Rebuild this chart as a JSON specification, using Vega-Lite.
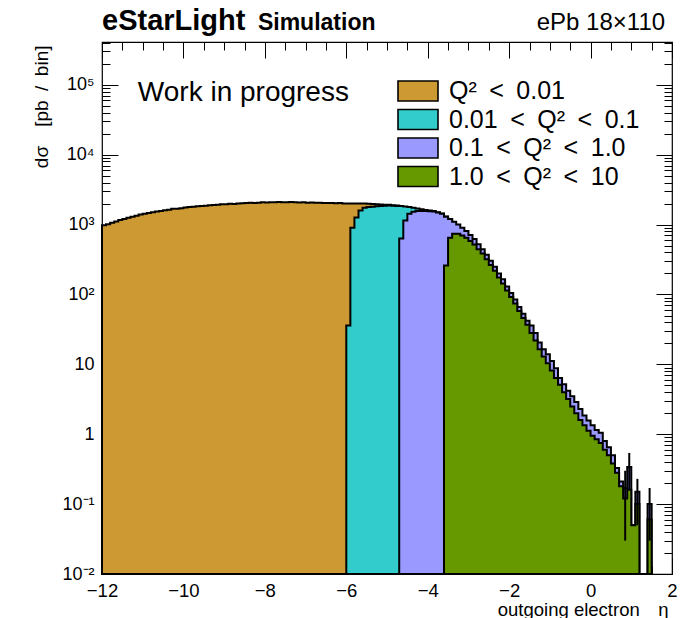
{
  "$schema": "https://vega.github.io/schema/vega-lite/v6.json",
  "width": 570,
  "height": 532,
  "autosize": {"type": "none"},
  "padding": {"left": 102, "top": 42, "right": 18, "bottom": 44},
  "background": "white",
  "config": {
    "font": "Liberation Sans",
    "view": {"stroke": "black", "strokeWidth": 1.2},
    "axis": {"grid": false, "domain": false, "tickColor": "black", "tickWidth": 1, "labelColor": "black", "titleColor": "black", "labelFont": "Liberation Sans", "titleFont": "Liberation Sans"}
  },
  "data": {
    "values": [
      {"eta": -12.0, "q2max": 0.01, "dsigma": 975}, {"eta": -11.9, "q2max": 0.01, "dsigma": 1010}, {"eta": -11.8, "q2max": 0.01, "dsigma": 1060}, {"eta": -11.7, "q2max": 0.01, "dsigma": 1110},
      {"eta": -11.6, "q2max": 0.01, "dsigma": 1160}, {"eta": -11.5, "q2max": 0.01, "dsigma": 1200}, {"eta": -11.4, "q2max": 0.01, "dsigma": 1250}, {"eta": -11.3, "q2max": 0.01, "dsigma": 1300},
      {"eta": -11.2, "q2max": 0.01, "dsigma": 1340}, {"eta": -11.1, "q2max": 0.01, "dsigma": 1390}, {"eta": -11.0, "q2max": 0.01, "dsigma": 1430}, {"eta": -10.9, "q2max": 0.01, "dsigma": 1470},
      {"eta": -10.8, "q2max": 0.01, "dsigma": 1500}, {"eta": -10.7, "q2max": 0.01, "dsigma": 1540}, {"eta": -10.6, "q2max": 0.01, "dsigma": 1570}, {"eta": -10.5, "q2max": 0.01, "dsigma": 1600},
      {"eta": -10.4, "q2max": 0.01, "dsigma": 1630}, {"eta": -10.3, "q2max": 0.01, "dsigma": 1680}, {"eta": -10.2, "q2max": 0.01, "dsigma": 1690}, {"eta": -10.1, "q2max": 0.01, "dsigma": 1720},
      {"eta": -10.0, "q2max": 0.01, "dsigma": 1760}, {"eta": -9.9, "q2max": 0.01, "dsigma": 1780}, {"eta": -9.8, "q2max": 0.01, "dsigma": 1800}, {"eta": -9.7, "q2max": 0.01, "dsigma": 1830},
      {"eta": -9.6, "q2max": 0.01, "dsigma": 1850}, {"eta": -9.5, "q2max": 0.01, "dsigma": 1860}, {"eta": -9.4, "q2max": 0.01, "dsigma": 1890}, {"eta": -9.3, "q2max": 0.01, "dsigma": 1910},
      {"eta": -9.2, "q2max": 0.01, "dsigma": 1920}, {"eta": -9.1, "q2max": 0.01, "dsigma": 1950}, {"eta": -9.0, "q2max": 0.01, "dsigma": 1960}, {"eta": -8.9, "q2max": 0.01, "dsigma": 1980},
      {"eta": -8.8, "q2max": 0.01, "dsigma": 1970}, {"eta": -8.7, "q2max": 0.01, "dsigma": 2010}, {"eta": -8.6, "q2max": 0.01, "dsigma": 2020}, {"eta": -8.5, "q2max": 0.01, "dsigma": 2030},
      {"eta": -8.4, "q2max": 0.01, "dsigma": 2050}, {"eta": -8.3, "q2max": 0.01, "dsigma": 2040}, {"eta": -8.2, "q2max": 0.01, "dsigma": 2060}, {"eta": -8.1, "q2max": 0.01, "dsigma": 2080},
      {"eta": -8.0, "q2max": 0.01, "dsigma": 2070}, {"eta": -7.9, "q2max": 0.01, "dsigma": 2090}, {"eta": -7.8, "q2max": 0.01, "dsigma": 2080}, {"eta": -7.7, "q2max": 0.01, "dsigma": 2100},
      {"eta": -7.6, "q2max": 0.01, "dsigma": 2090}, {"eta": -7.5, "q2max": 0.01, "dsigma": 2080}, {"eta": -7.4, "q2max": 0.01, "dsigma": 2100}, {"eta": -7.3, "q2max": 0.01, "dsigma": 2090},
      {"eta": -7.2, "q2max": 0.01, "dsigma": 2070}, {"eta": -7.1, "q2max": 0.01, "dsigma": 2080}, {"eta": -7.0, "q2max": 0.01, "dsigma": 2060}, {"eta": -6.9, "q2max": 0.01, "dsigma": 2070},
      {"eta": -6.8, "q2max": 0.01, "dsigma": 2050}, {"eta": -6.7, "q2max": 0.01, "dsigma": 2060}, {"eta": -6.6, "q2max": 0.01, "dsigma": 2040}, {"eta": -6.5, "q2max": 0.01, "dsigma": 2030},
      {"eta": -6.4, "q2max": 0.01, "dsigma": 2040}, {"eta": -6.3, "q2max": 0.01, "dsigma": 2020}, {"eta": -6.2, "q2max": 0.01, "dsigma": 2030}, {"eta": -6.1, "q2max": 0.01, "dsigma": 2010},
      {"eta": -6.0, "q2max": 0.01, "dsigma": 1975}, {"eta": -5.9, "q2max": 0.01, "dsigma": 1110}, {"eta": -5.8, "q2max": 0.01, "dsigma": 740}, {"eta": -5.7, "q2max": 0.01, "dsigma": 410},
      {"eta": -5.6, "q2max": 0.01, "dsigma": 260}, {"eta": -5.5, "q2max": 0.01, "dsigma": 210}, {"eta": -5.4, "q2max": 0.01, "dsigma": 170}, {"eta": -5.3, "q2max": 0.01, "dsigma": 130},
      {"eta": -5.2, "q2max": 0.01, "dsigma": 95}, {"eta": -5.1, "q2max": 0.01, "dsigma": 65}, {"eta": -5.0, "q2max": 0.01, "dsigma": 45}, {"eta": -4.9, "q2max": 0.01, "dsigma": 30},
      {"eta": -4.8, "q2max": 0.01, "dsigma": 18}, {"eta": -4.7, "q2max": 0.01, "dsigma": 0},

      {"eta": -6.0, "q2max": 0.1, "dsigma": 36}, {"eta": -5.9, "q2max": 0.1, "dsigma": 900}, {"eta": -5.8, "q2max": 0.1, "dsigma": 1260}, {"eta": -5.7, "q2max": 0.1, "dsigma": 1590},
      {"eta": -5.6, "q2max": 0.1, "dsigma": 1740}, {"eta": -5.5, "q2max": 0.1, "dsigma": 1780}, {"eta": -5.4, "q2max": 0.1, "dsigma": 1800}, {"eta": -5.3, "q2max": 0.1, "dsigma": 1830},
      {"eta": -5.2, "q2max": 0.1, "dsigma": 1850}, {"eta": -5.1, "q2max": 0.1, "dsigma": 1860}, {"eta": -5.0, "q2max": 0.1, "dsigma": 1870}, {"eta": -4.9, "q2max": 0.1, "dsigma": 1860},
      {"eta": -4.8, "q2max": 0.1, "dsigma": 1850}, {"eta": -4.7, "q2max": 0.1, "dsigma": 1210}, {"eta": -4.6, "q2max": 0.1, "dsigma": 670}, {"eta": -4.5, "q2max": 0.1, "dsigma": 345},
      {"eta": -4.4, "q2max": 0.1, "dsigma": 210}, {"eta": -4.3, "q2max": 0.1, "dsigma": 140}, {"eta": -4.2, "q2max": 0.1, "dsigma": 90}, {"eta": -4.1, "q2max": 0.1, "dsigma": 55},
      {"eta": -4.0, "q2max": 0.1, "dsigma": 35}, {"eta": -3.9, "q2max": 0.1, "dsigma": 20}, {"eta": -3.8, "q2max": 0.1, "dsigma": 12}, {"eta": -3.7, "q2max": 0.1, "dsigma": 8},
      {"eta": -3.6, "q2max": 0.1, "dsigma": 5}, {"eta": -3.5, "q2max": 0.1, "dsigma": 3}, {"eta": -3.4, "q2max": 0.1, "dsigma": 0},

      {"eta": -4.7, "q2max": 1, "dsigma": 630}, {"eta": -4.6, "q2max": 1, "dsigma": 1140}, {"eta": -4.5, "q2max": 1, "dsigma": 1435}, {"eta": -4.4, "q2max": 1, "dsigma": 1530},
      {"eta": -4.3, "q2max": 1, "dsigma": 1560}, {"eta": -4.2, "q2max": 1, "dsigma": 1570}, {"eta": -4.1, "q2max": 1, "dsigma": 1565}, {"eta": -4.0, "q2max": 1, "dsigma": 1555},
      {"eta": -3.9, "q2max": 1, "dsigma": 1540}, {"eta": -3.8, "q2max": 1, "dsigma": 1490}, {"eta": -3.7, "q2max": 1, "dsigma": 1430}, {"eta": -3.6, "q2max": 1, "dsigma": 1040},
      {"eta": -3.5, "q2max": 1, "dsigma": 550}, {"eta": -3.4, "q2max": 1, "dsigma": 360}, {"eta": -3.3, "q2max": 1, "dsigma": 260}, {"eta": -3.2, "q2max": 1, "dsigma": 200},
      {"eta": -3.1, "q2max": 1, "dsigma": 160}, {"eta": -3.0, "q2max": 1, "dsigma": 130}, {"eta": -2.9, "q2max": 1, "dsigma": 100}, {"eta": -2.8, "q2max": 1, "dsigma": 80},
      {"eta": -2.7, "q2max": 1, "dsigma": 60}, {"eta": -2.6, "q2max": 1, "dsigma": 50}, {"eta": -2.5, "q2max": 1, "dsigma": 40}, {"eta": -2.4, "q2max": 1, "dsigma": 32},
      {"eta": -2.3, "q2max": 1, "dsigma": 25}, {"eta": -2.2, "q2max": 1, "dsigma": 21}, {"eta": -2.1, "q2max": 1, "dsigma": 16}, {"eta": -2.0, "q2max": 1, "dsigma": 13},
      {"eta": -1.9, "q2max": 1, "dsigma": 11}, {"eta": -1.8, "q2max": 1, "dsigma": 8}, {"eta": -1.7, "q2max": 1, "dsigma": 7}, {"eta": -1.6, "q2max": 1, "dsigma": 5},
      {"eta": -1.5, "q2max": 1, "dsigma": 8}, {"eta": -1.4, "q2max": 1, "dsigma": 6}, {"eta": -1.3, "q2max": 1, "dsigma": 4}, {"eta": -1.2, "q2max": 1, "dsigma": 3.5},
      {"eta": -1.1, "q2max": 1, "dsigma": 3.5}, {"eta": -1.0, "q2max": 1, "dsigma": 3.0}, {"eta": -0.9, "q2max": 1, "dsigma": 2.4}, {"eta": -0.8, "q2max": 1, "dsigma": 1.3},
      {"eta": -0.7, "q2max": 1, "dsigma": 1.2}, {"eta": -0.6, "q2max": 1, "dsigma": 1.0}, {"eta": -0.5, "q2max": 1, "dsigma": 1.0}, {"eta": -0.4, "q2max": 1, "dsigma": 0.9},
      {"eta": -0.3, "q2max": 1, "dsigma": 0.7}, {"eta": -0.2, "q2max": 1, "dsigma": 0.5}, {"eta": -0.1, "q2max": 1, "dsigma": 0.45}, {"eta": 0.0, "q2max": 1, "dsigma": 0.4},
      {"eta": 0.1, "q2max": 1, "dsigma": 0.3}, {"eta": 0.2, "q2max": 1, "dsigma": 0.3}, {"eta": 0.3, "q2max": 1, "dsigma": 0.2}, {"eta": 0.4, "q2max": 1, "dsigma": 0.15},
      {"eta": 0.5, "q2max": 1, "dsigma": 0.12}, {"eta": 0.6, "q2max": 1, "dsigma": 0.05}, {"eta": 0.7, "q2max": 1, "dsigma": 0.03}, {"eta": 0.8, "q2max": 1, "dsigma": 0.05},
      {"eta": 0.9, "q2max": 1, "dsigma": 0.18}, {"eta": 1.0, "q2max": 1, "dsigma": 0}, {"eta": 1.1, "q2max": 1, "dsigma": 0.05}, {"eta": 1.2, "q2max": 1, "dsigma": 0},
      {"eta": 1.3, "q2max": 1, "dsigma": 0}, {"eta": 1.4, "q2max": 1, "dsigma": 0.04}, {"eta": 1.5, "q2max": 1, "dsigma": 0},

      {"eta": -3.6, "q2max": 10, "dsigma": 260}, {"eta": -3.5, "q2max": 10, "dsigma": 650}, {"eta": -3.4, "q2max": 10, "dsigma": 740}, {"eta": -3.3, "q2max": 10, "dsigma": 740},
      {"eta": -3.2, "q2max": 10, "dsigma": 700}, {"eta": -3.1, "q2max": 10, "dsigma": 650}, {"eta": -3.0, "q2max": 10, "dsigma": 580}, {"eta": -2.9, "q2max": 10, "dsigma": 520},
      {"eta": -2.8, "q2max": 10, "dsigma": 445}, {"eta": -2.7, "q2max": 10, "dsigma": 385}, {"eta": -2.6, "q2max": 10, "dsigma": 320}, {"eta": -2.5, "q2max": 10, "dsigma": 265},
      {"eta": -2.4, "q2max": 10, "dsigma": 218}, {"eta": -2.3, "q2max": 10, "dsigma": 175}, {"eta": -2.2, "q2max": 10, "dsigma": 144}, {"eta": -2.1, "q2max": 10, "dsigma": 114},
      {"eta": -2.0, "q2max": 10, "dsigma": 92}, {"eta": -1.9, "q2max": 10, "dsigma": 74}, {"eta": -1.8, "q2max": 10, "dsigma": 58}, {"eta": -1.7, "q2max": 10, "dsigma": 46},
      {"eta": -1.6, "q2max": 10, "dsigma": 37}, {"eta": -1.5, "q2max": 10, "dsigma": 28}, {"eta": -1.4, "q2max": 10, "dsigma": 22}, {"eta": -1.3, "q2max": 10, "dsigma": 16.5},
      {"eta": -1.2, "q2max": 10, "dsigma": 13}, {"eta": -1.1, "q2max": 10, "dsigma": 10.4}, {"eta": -1.0, "q2max": 10, "dsigma": 8.2}, {"eta": -0.9, "q2max": 10, "dsigma": 6.4},
      {"eta": -0.8, "q2max": 10, "dsigma": 5.1}, {"eta": -0.7, "q2max": 10, "dsigma": 4.0}, {"eta": -0.6, "q2max": 10, "dsigma": 3.2}, {"eta": -0.5, "q2max": 10, "dsigma": 2.5},
      {"eta": -0.4, "q2max": 10, "dsigma": 2.0}, {"eta": -0.3, "q2max": 10, "dsigma": 1.6}, {"eta": -0.2, "q2max": 10, "dsigma": 1.35}, {"eta": -0.1, "q2max": 10, "dsigma": 1.12},
      {"eta": 0.0, "q2max": 10, "dsigma": 0.95}, {"eta": 0.1, "q2max": 10, "dsigma": 0.85}, {"eta": 0.2, "q2max": 10, "dsigma": 0.75}, {"eta": 0.3, "q2max": 10, "dsigma": 0.6},
      {"eta": 0.4, "q2max": 10, "dsigma": 0.5}, {"eta": 0.5, "q2max": 10, "dsigma": 0.38}, {"eta": 0.6, "q2max": 10, "dsigma": 0.28}, {"eta": 0.7, "q2max": 10, "dsigma": 0.18},
      {"eta": 0.8, "q2max": 10, "dsigma": 0.12}, {"eta": 0.9, "q2max": 10, "dsigma": 0.16}, {"eta": 1.0, "q2max": 10, "dsigma": 0.05}, {"eta": 1.1, "q2max": 10, "dsigma": 0.1},
      {"eta": 1.2, "q2max": 10, "dsigma": 0}, {"eta": 1.3, "q2max": 10, "dsigma": 0}, {"eta": 1.4, "q2max": 10, "dsigma": 0.06}, {"eta": 1.5, "q2max": 10, "dsigma": 0}
    ]
  },
  "transform": [
    {"stack": "dsigma", "groupby": ["eta"], "sort": [{"field": "q2max", "order": "descending"}], "as": ["stack_lo", "stack_hi"]}
  ],
  "resolve": {"axis": {"x": "independent", "y": "independent"}},
  "layer": [
    {
      "transform": [{"filter": "datum.q2max == 0.01"}],
      "mark": {"type": "area", "interpolate": "step-after", "stroke": "black", "strokeWidth": 2},
      "encoding": {
        "x": {
          "field": "eta", "type": "quantitative",
          "scale": {"domain": [-12, 2], "nice": false, "zero": false},
          "axis": {
            "orient": "bottom",
            "values": [-12, -11.5, -11, -10.5, -10, -9.5, -9, -8.5, -8, -7.5, -7, -6.5, -6, -5.5, -5, -4.5, -4, -3.5, -3, -2.5, -2, -1.5, -1, -0.5, 0, 0.5, 1, 1.5, 2],
            "labelExpr": "datum.value % 2 == 0 ? format(datum.value, 'd') : ''",
            "tickSize": {"condition": {"test": "datum.value % 2 == 0", "value": -16}, "value": -8},
            "labelFontSize": 18.5, "labelPadding": 23, "labelOverlap": false, "labelFlush": false, "labelBound": false,
            "title": "outgoing electron\u2002\u2002η", "titleFontSize": 18.5, "titleFontWeight": "normal",
            "titleAnchor": "end", "titleAlign": "right", "titleBaseline": "alphabetic", "titleX": 566, "titleY": 41
          }
        },
        "y": {
          "field": "stack_hi", "type": "quantitative", "stack": null,
          "scale": {"type": "log", "domain": [0.01, 410000], "nice": false, "clamp": true},
          "axis": {
            "orient": "left",
            "values": [0.01, 0.02, 0.03, 0.04, 0.05, 0.06, 0.07, 0.08, 0.09, 0.1, 0.2, 0.3, 0.4, 0.5, 0.6, 0.7, 0.8, 0.9, 1, 2, 3, 4, 5, 6, 7, 8, 9, 10, 20, 30, 40, 50, 60, 70, 80, 90, 100, 200, 300, 400, 500, 600, 700, 800, 900, 1000, 2000, 3000, 4000, 5000, 6000, 7000, 8000, 9000, 10000, 20000, 30000, 40000, 50000, 60000, 70000, 80000, 90000, 100000, 200000, 300000, 400000],
            "labelExpr": "datum.value == 0.01 ? '10⁻²' : datum.value == 0.1 ? '10⁻¹' : datum.value == 1 ? '1' : datum.value == 10 ? '10' : datum.value == 100 ? '10²' : datum.value == 1000 ? '10³' : datum.value == 10000 ? '10⁴' : datum.value == 100000 ? '10⁵' : ''",
            "tickSize": {"condition": {"test": "indexof([0.01, 0.1, 1, 10, 100, 1000, 10000, 100000], datum.value) >= 0", "value": -16}, "value": -8},
            "labelFontSize": 18, "labelPadding": 24, "labelOverlap": false, "labelBound": false, "labelFlush": false,
            "title": "dσ\u2002\u2002[pb\u2002/\u2002bin]", "titleFontSize": 19, "titleFontWeight": "normal",
            "titleAngle": -90, "titleAlign": "right", "titleBaseline": "middle", "titleX": -61, "titleY": 3
          }
        },
        "y2": {"datum": 0.01},
        "fill": {
          "field": "q2max", "type": "nominal",
          "scale": {"domain": [0.01, 0.1, 1, 10], "range": ["#CC9933", "#33CCCC", "#9999FF", "#669900"]},
          "legend": {
            "orient": "none", "legendX": 295, "legendY": 35, "title": null, "padding": 0,
            "symbolType": "M-1,-0.5H1V0.5H-1Z", "symbolSize": 1600, "symbolStrokeColor": "black", "symbolStrokeWidth": 1.6, "symbolOpacity": 1,
            "labelFont": "Liberation Sans", "labelFontSize": 25, "labelColor": "black", "labelOffset": 10, "labelLimit": 400,
            "clipHeight": 28, "rowPadding": 0.5,
            "labelExpr": "datum.value == 0.01 ? 'Q²\u2002<\u20020.01' : datum.value == 0.1 ? '0.01\u2002<\u2002Q²\u2002<\u20020.1' : datum.value == 1 ? '0.1\u2002<\u2002Q²\u2002<\u20021.0' : '1.0\u2002<\u2002Q²\u2002<\u200210'"
          }
        }
      }
    },
    {
      "transform": [{"filter": "datum.q2max == 0.1"}],
      "mark": {"type": "area", "interpolate": "step-after", "stroke": "black", "strokeWidth": 2},
      "encoding": {
        "x": {
          "field": "eta", "type": "quantitative",
          "axis": {
            "orient": "top", "labels": false, "title": null,
            "values": [-12, -11.5, -11, -10.5, -10, -9.5, -9, -8.5, -8, -7.5, -7, -6.5, -6, -5.5, -5, -4.5, -4, -3.5, -3, -2.5, -2, -1.5, -1, -0.5, 0, 0.5, 1, 1.5, 2],
            "tickSize": {"condition": {"test": "datum.value % 2 == 0", "value": -16}, "value": -8}
          }
        },
        "y": {
          "field": "stack_hi", "type": "quantitative", "stack": null,
          "axis": {
            "orient": "right", "labels": false, "title": null,
            "values": [0.01, 0.02, 0.03, 0.04, 0.05, 0.06, 0.07, 0.08, 0.09, 0.1, 0.2, 0.3, 0.4, 0.5, 0.6, 0.7, 0.8, 0.9, 1, 2, 3, 4, 5, 6, 7, 8, 9, 10, 20, 30, 40, 50, 60, 70, 80, 90, 100, 200, 300, 400, 500, 600, 700, 800, 900, 1000, 2000, 3000, 4000, 5000, 6000, 7000, 8000, 9000, 10000, 20000, 30000, 40000, 50000, 60000, 70000, 80000, 90000, 100000, 200000, 300000, 400000],
            "tickSize": {"condition": {"test": "indexof([0.01, 0.1, 1, 10, 100, 1000, 10000, 100000], datum.value) >= 0", "value": -16}, "value": -8}
          }
        },
        "y2": {"datum": 0.01},
        "fill": {"field": "q2max", "type": "nominal"}
      }
    },
    {
      "transform": [{"filter": "datum.q2max == 1"}],
      "mark": {"type": "area", "interpolate": "step-after", "stroke": "black", "strokeWidth": 2},
      "encoding": {
        "x": {"field": "eta", "type": "quantitative", "axis": null},
        "y": {"field": "stack_hi", "type": "quantitative", "stack": null, "axis": null},
        "y2": {"datum": 0.01},
        "fill": {"field": "q2max", "type": "nominal"}
      }
    },
    {
      "transform": [{"filter": "datum.q2max == 10"}],
      "mark": {"type": "area", "interpolate": "step-after", "stroke": "black", "strokeWidth": 2},
      "encoding": {
        "x": {"field": "eta", "type": "quantitative", "axis": null},
        "y": {"field": "stack_hi", "type": "quantitative", "stack": null, "axis": null},
        "y2": {"datum": 0.01},
        "fill": {"field": "q2max", "type": "nominal"}
      }
    },
    {
      "data": {"values": [
        {"eta": 0.85, "err_lo": 0.03, "err_hi": 0.3},
        {"eta": 0.95, "err_lo": 0.16, "err_hi": 0.54},
        {"eta": 1.15, "err_lo": 0.05, "err_hi": 0.23},
        {"eta": 1.45, "err_lo": 0.03, "err_hi": 0.17}
      ]},
      "mark": {"type": "rule", "color": "black", "strokeWidth": 2},
      "encoding": {
        "x": {"field": "eta", "type": "quantitative", "axis": null},
        "y": {"field": "err_lo", "type": "quantitative", "axis": null},
        "y2": {"field": "err_hi"}
      }
    },
    {
      "data": {"values": [{"note": "Work in progress"}]},
      "mark": {"type": "text", "font": "Liberation Sans", "fontSize": 28, "align": "left", "baseline": "middle", "fill": "black"},
      "encoding": {
        "text": {"field": "note"},
        "x": {"datum": -11.12, "type": "quantitative", "axis": null},
        "y": {"datum": 77000, "type": "quantitative", "axis": null}
      }
    },
    {
      "data": {"values": [{"note": "eStarLight"}]},
      "mark": {"type": "text", "font": "Liberation Sans", "fontSize": 29, "fontWeight": "bold", "align": "left", "baseline": "alphabetic", "dy": -12, "fill": "black"},
      "encoding": {
        "text": {"field": "note"},
        "x": {"datum": -12, "type": "quantitative", "axis": null},
        "y": {"datum": 410000, "type": "quantitative", "axis": null}
      }
    },
    {
      "data": {"values": [{"note": "Simulation"}]},
      "mark": {"type": "text", "font": "Liberation Sans", "fontSize": 23, "fontWeight": "bold", "align": "left", "baseline": "alphabetic", "dy": -12, "fill": "black"},
      "encoding": {
        "text": {"field": "note"},
        "x": {"datum": -8.17, "type": "quantitative", "axis": null},
        "y": {"datum": 410000, "type": "quantitative", "axis": null}
      }
    },
    {
      "data": {"values": [{"note": "ePb 18×110"}]},
      "mark": {"type": "text", "font": "Liberation Sans", "fontSize": 24, "align": "right", "baseline": "alphabetic", "dy": -12, "fill": "black"},
      "encoding": {
        "text": {"field": "note"},
        "x": {"datum": 1.83, "type": "quantitative", "axis": null},
        "y": {"datum": 410000, "type": "quantitative", "axis": null}
      }
    }
  ]
}
